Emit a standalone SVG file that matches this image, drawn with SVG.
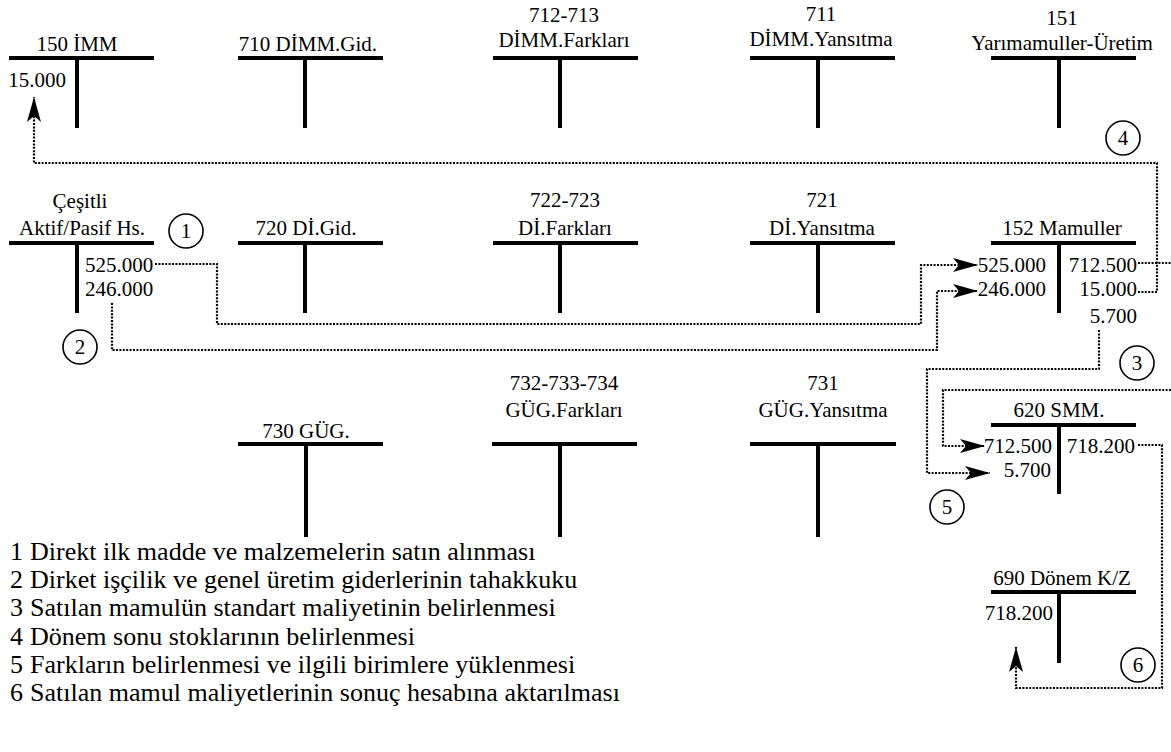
<svg xmlns="http://www.w3.org/2000/svg" width="1171" height="752" viewBox="0 0 1171 752" font-family="'Liberation Serif', 'Times New Roman', 'DejaVu Serif', serif">
<style>
text{font-family:'Liberation Serif','Times New Roman','DejaVu Serif',serif;font-size:21px;fill:#000}
.c{text-anchor:middle}
.e{text-anchor:end}
.lg{font-size:26px}
.bar{stroke:#000;stroke-width:4;fill:none}
.dot{stroke:#000;stroke-width:2.2;fill:none;stroke-dasharray:2 1.4}
.cir{stroke:#000;stroke-width:1.6;fill:#fff}
</style>
<defs>
<marker id="ah" markerUnits="userSpaceOnUse" markerWidth="26" markerHeight="14" refX="25" refY="7" orient="auto">
<path d="M0,0 L25,7 L0,14 L6,7 Z" fill="#000"/>
</marker>
</defs>
<rect width="1171" height="752" fill="#fff"/>

<g id="connectors">
<path class="dot" d="M155,264 H217 V324 H921 V265 H978" marker-end="url(#ah)"/>
<path class="dot" d="M112,303 V350 H937 V291 H978" marker-end="url(#ah)"/>
<path class="dot" d="M1138,263 H1171"/>
<path class="dot" d="M1171,390 H943 V446 H985" marker-end="url(#ah)"/>
<path class="dot" d="M1138,292 H1157 V163 H34 V97" marker-end="url(#ah)"/>
<path class="dot" d="M1099,330 V369 H927 V473 H990" marker-end="url(#ah)"/>
<path class="dot" d="M1138,445 H1162 V688 H1016 V647" marker-end="url(#ah)"/>
</g>

<g id="acc150">
<path class="bar" d="M9,58 H154 M77,58 V128"/>
<text class="c" x="77" y="51">150 İMM</text>
<text class="e" x="66" y="87">15.000</text>
</g>
<g id="acc710">
<path class="bar" d="M238,58 H383 M305,58 V128"/>
<text class="c" x="308" y="51">710 DİMM.Gid.</text>
</g>
<g id="acc712">
<path class="bar" d="M493,58 H638 M560,58 V128"/>
<text class="c" x="564" y="22">712-713</text>
<text class="c" x="564" y="47">DİMM.Farkları</text>
</g>
<g id="acc711">
<path class="bar" d="M750,58 H895 M818,58 V128"/>
<text class="c" x="821" y="21">711</text>
<text class="c" x="821" y="46">DİMM.Yansıtma</text>
</g>
<g id="acc151">
<path class="bar" d="M991,58 H1136 M1059,58 V128"/>
<text class="c" x="1062" y="25">151</text>
<text class="c" x="1062" y="50">Yarımamuller-Üretim</text>
</g>

<g id="accCesitli">
<path class="bar" d="M9,243 H154 M77,243 V313"/>
<text class="c" x="80" y="208">Çeşitli</text>
<text class="c" x="82" y="235">Aktif/Pasif Hs.</text>
<text x="85" y="272">525.000</text>
<text x="85" y="296">246.000</text>
</g>
<g id="acc720">
<path class="bar" d="M238,243 H383 M305,243 V313"/>
<text class="c" x="306" y="235">720 Dİ.Gid.</text>
</g>
<g id="acc722">
<path class="bar" d="M493,243 H638 M560,243 V313"/>
<text class="c" x="565" y="207">722-723</text>
<text class="c" x="565" y="235">Dİ.Farkları</text>
</g>
<g id="acc721">
<path class="bar" d="M750,243 H895 M818,243 V313"/>
<text class="c" x="822" y="207">721</text>
<text class="c" x="822" y="235">Dİ.Yansıtma</text>
</g>
<g id="acc152">
<path class="bar" d="M991,243 H1136 M1059,243 V313"/>
<text class="c" x="1062" y="235">152 Mamuller</text>
<text class="e" x="1046" y="272">525.000</text>
<text class="e" x="1046" y="296">246.000</text>
<text class="e" x="1137" y="272">712.500</text>
<text class="e" x="1137" y="296">15.000</text>
<text class="e" x="1137" y="323">5.700</text>
</g>

<g id="acc730">
<path class="bar" d="M238,444 H383 M306,444 V537"/>
<text class="c" x="306" y="438">730 GÜG.</text>
</g>
<g id="acc732">
<path class="bar" d="M492,444 H637 M560,444 V537"/>
<text class="c" x="564" y="390">732-733-734</text>
<text class="c" x="564" y="417">GÜG.Farkları</text>
</g>
<g id="acc731">
<path class="bar" d="M750,444 H896 M818,444 V537"/>
<text class="c" x="823" y="390">731</text>
<text class="c" x="823" y="417">GÜG.Yansıtma</text>
</g>
<g id="acc620">
<path class="bar" d="M991,425 H1136 M1059,425 V494"/>
<text class="c" x="1059" y="417">620 SMM.</text>
<text class="e" x="1052" y="453">712.500</text>
<text class="e" x="1051" y="477">5.700</text>
<text class="e" x="1135" y="453">718.200</text>
</g>
<g id="acc690">
<path class="bar" d="M991,592 H1136 M1059,592 V663"/>
<text class="c" x="1062" y="585">690 Dönem K/Z</text>
<text class="e" x="1053" y="620">718.200</text>
</g>

<g id="n1"><circle class="cir" cx="186" cy="231" r="17"/><text class="c" x="186" y="238">1</text></g>
<g id="n2"><circle class="cir" cx="80" cy="347" r="17"/><text class="c" x="80" y="354">2</text></g>
<g id="n3"><circle class="cir" cx="1137" cy="363" r="17"/><text class="c" x="1137" y="370">3</text></g>
<g id="n4"><circle class="cir" cx="1123" cy="138" r="17"/><text class="c" x="1123" y="145">4</text></g>
<g id="n5"><circle class="cir" cx="947" cy="507" r="17"/><text class="c" x="947" y="514">5</text></g>
<g id="n6"><circle class="cir" cx="1138" cy="665" r="17"/><text class="c" x="1138" y="672">6</text></g>

<g id="legend">
<text class="lg" y="560"><tspan x="10">1</tspan><tspan x="30">Direkt ilk madde ve malzemelerin satın alınması</tspan></text>
<text class="lg" y="588"><tspan x="10">2</tspan><tspan x="30">Dirket işçilik ve genel üretim giderlerinin tahakkuku</tspan></text>
<text class="lg" y="616"><tspan x="10">3</tspan><tspan x="30">Satılan mamulün standart maliyetinin belirlenmesi</tspan></text>
<text class="lg" y="645"><tspan x="10">4</tspan><tspan x="30">Dönem sonu stoklarının belirlenmesi</tspan></text>
<text class="lg" y="673"><tspan x="10">5</tspan><tspan x="30">Farkların belirlenmesi ve ilgili birimlere yüklenmesi</tspan></text>
<text class="lg" y="701"><tspan x="10">6</tspan><tspan x="30">Satılan mamul maliyetlerinin sonuç hesabına aktarılması</tspan></text>
</g>
</svg>
